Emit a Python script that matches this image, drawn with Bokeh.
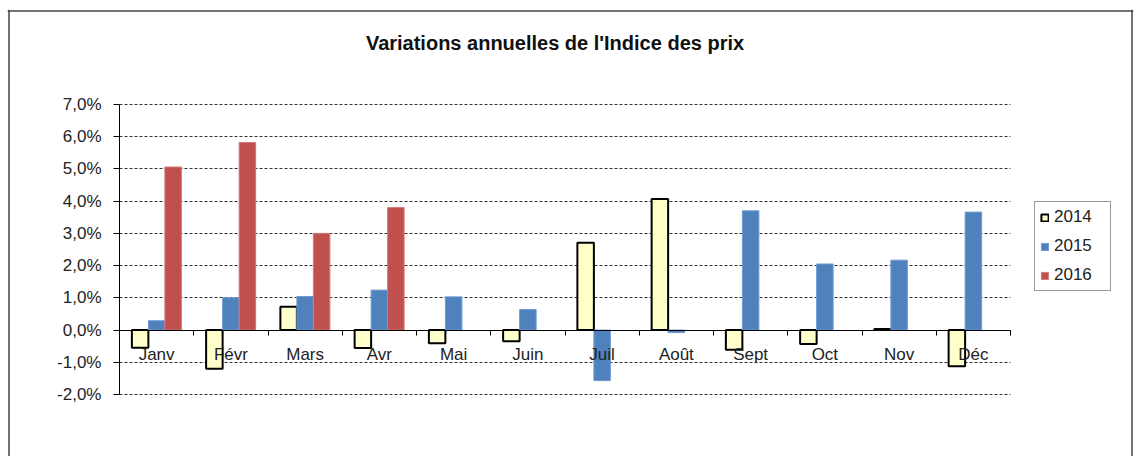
import numpy as np
from bokeh.plotting import figure
from bokeh.models import (ColumnDataSource, FixedTicker, LinearAxis, Range1d,
                          Legend, LegendItem, Grid, Label, Span)
from bokeh.embed import file_html
from bokeh.resources import INLINE

# ---- data ----
months = ["Janv", "Févr", "Mars", "Avr", "Mai", "Juin", "Juil", "Août",
          "Sept", "Oct", "Nov", "Déc"]
v2014 = [-0.55, -1.20, 0.72, -0.56, -0.41, -0.35, 2.71, 4.07, -0.61, -0.43, 0.03, -1.12]
v2015 = [0.29, 1.00, 1.04, 1.24, 1.03, 0.64, -1.57, -0.08, 3.70, 2.05, 2.17, 3.66]
v2016 = [5.06, 5.82, 3.00, 3.80]
series_names = ["2014", "2015", "2016"]
y_ticks = [-2, -1, 0, 1, 2, 3, 4, 5, 6, 7]
y_labels = ["-2,0%", "-1,0%", "0,0%", "1,0%", "2,0%", "3,0%", "4,0%", "5,0%", "6,0%", "7,0%"]
title_text = "Variations annuelles de l'Indice des prix"

# ---- layout (pixels) ----
FONT = "Liberation Sans"
n = len(months)
ymin, ymax = min(y_ticks), max(y_ticks)
FRAME_L, FRAME_T, FRAME_R, FRAME_B = 7, 9, 1133, 456      # drawing frame
BORDER_L, BORDER_T, BORDER_R = 8.5, 10.5, 1131.5           # outer chart-area border
AX_L, AX_R, AX_T, AX_B = 119, 1010, 104, 394              # plot area
TITLE_CX, TITLE_CY = 554.5, 42
LEG_X, LEG_BOTTOM = 1034, 291
ppx = (AX_R - AX_L) / n
ppy = (AX_B - AX_T) / (ymax - ymin)

def dx(px):
    return (px - AX_L) / ppx

def dy(py):
    return ymax + (AX_T - py) / ppy

centers = [i + 0.5 for i in range(n)]
bounds = [float(i) for i in range(n + 1)]
w = 1 / 4.5  # 3 bars + 150% gap

p = figure(frame_width=FRAME_R - FRAME_L, frame_height=FRAME_B - FRAME_T,
           output_backend="svg", toolbar_location=None,
           x_range=Range1d(dx(FRAME_L), dx(FRAME_R)),
           y_range=Range1d(dy(FRAME_B), dy(FRAME_T)),
           x_axis_type=None, y_axis_type=None,
           min_border_left=FRAME_L, min_border_right=2, min_border_top=FRAME_T,
           min_border_bottom=0)
p.outline_line_color = None
p.background_fill_color = "white"
p.border_fill_color = "white"

# outer chart-area border (left, right, top; bottom lies below the window)
for loc, dim in ((dx(BORDER_L), "height"), (dx(BORDER_R), "height"), (dy(BORDER_T), "width")):
    p.add_layout(Span(location=loc, dimension=dim, line_color="#444", line_width=1.5))

p.add_layout(Label(x=dx(TITLE_CX), y=dy(TITLE_CY),
                   text=title_text, text_align="center", text_baseline="middle",
                   text_font=FONT, text_font_size="20px", text_font_style="bold",
                   text_color="#111"))

grid = Grid(dimension=1, ticker=FixedTicker(ticks=y_ticks), cross_bounds=(0, n),
            grid_line_color="#333", grid_line_dash="3 2", grid_line_width=1)
p.add_layout(grid)

yax = LinearAxis(fixed_location=0, bounds=(ymin, ymax),
                 ticker=FixedTicker(ticks=y_ticks),
                 major_label_overrides=dict(zip(y_ticks, y_labels)),
                 major_tick_out=6, major_tick_in=0, minor_tick_out=0, minor_tick_in=0,
                 major_label_standoff=12, axis_line_color="black",
                 major_tick_line_color="black",
                 major_label_text_font=FONT, major_label_text_font_size="17px",
                 major_label_text_color="#222")
p.add_layout(yax, "left")

src = ColumnDataSource(dict(
    x14=[c - w for c in centers], y14=v2014,
    x15=list(centers), y15=v2015,
))
src16 = ColumnDataSource(dict(x16=[c + w for c in centers[:len(v2016)]], y16=v2016))

r14 = p.vbar(x="x14", top="y14", bottom=0, width=w, source=src,
             fill_color="#FFFFCC", line_color="black", line_width=2)
r15 = p.vbar(x="x15", top="y15", bottom=0, width=w, source=src,
             fill_color="#4F81BD", line_color="#6F9BD0", line_width=1)
r16 = p.vbar(x="x16", top="y16", bottom=0, width=w, source=src16,
             fill_color="#C0504D", line_color="#D07A78", line_width=1)

xax = LinearAxis(fixed_location=0, bounds=(0, n),
                 ticker=FixedTicker(ticks=centers, minor_ticks=bounds),
                 major_label_overrides=dict(zip(centers, months)),
                 major_tick_out=0, major_tick_in=0, minor_tick_out=5, minor_tick_in=0,
                 axis_line_color="black", minor_tick_line_color="black",
                 major_label_standoff=10,
                 major_label_text_font=FONT, major_label_text_font_size="17px",
                 major_label_text_color="#222")
p.add_layout(xax, "below")

legend = Legend(items=[LegendItem(label=series_names[0], renderers=[r14]),
                       LegendItem(label=series_names[1], renderers=[r15]),
                       LegendItem(label=series_names[2], renderers=[r16])],
                location=(LEG_X - FRAME_L, FRAME_B - LEG_BOTTOM), orientation="vertical",
                border_line_color="#333", border_line_width=1,
                padding=5, spacing=9, label_height=16, glyph_height=9, glyph_width=9,
                label_standoff=5, label_width=51,
                label_text_font=FONT, label_text_font_size="17px",
                label_text_color="#222", margin=0, background_fill_color="white")
p.add_layout(legend)

open("out.html", "w").write(file_html(p, INLINE))
